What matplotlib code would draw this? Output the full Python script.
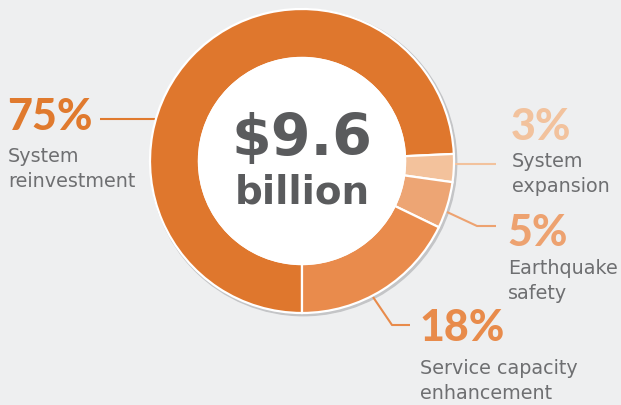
import matplotlib
matplotlib.use("Agg")
import matplotlib.pyplot as plt
from matplotlib.patches import Circle
import numpy as np

# ---- data ----
categories = ["System\nreinvestment", "System\nexpansion", "Earthquake\nsafety", "Service capacity\nenhancement"]
shares = [75, 3, 5, 18]
pct_labels = ["75%", "3%", "5%", "18%"]
total_label = "$9.6"
total_unit = "billion"

# ---- style ----
colors = ["#DF772D", "#F3C29C", "#EDA574", "#E98B4C"]
pct_colors = ["#E07A2E", "#F2C29D", "#EDA270", "#E88B4B"]
gray = "#5A5B5D"
label_gray = "#6E6F71"
bg = "#EEEFF0"

W, H = 621, 405
fig = plt.figure(figsize=(W / 100, H / 100), dpi=100, facecolor=bg)
ax = fig.add_axes([0, 0, 1, 1])
ax.set_xlim(0, W)
ax.set_ylim(0, H)
ax.set_aspect("equal")
ax.axis("off")
ax.set_facecolor(bg)

cx, cy = 302, H - 161
R, r_in = 152, 103

# drop shadow ring
ax.add_patch(Circle((cx + 1.5, cy - 1.5), R + 1.2, color="#C4C5C7", zorder=1))

wedges, _ = ax.pie(shares, colors=colors, startangle=270, counterclock=False,
                   radius=R, center=(cx, cy), frame=False,
                   wedgeprops=dict(width=R - r_in, edgecolor="white", linewidth=1.6))
for w in wedges:
    w.set_zorder(2)
ax.add_patch(Circle((cx, cy), r_in + 0.5, color="white", zorder=3))

ax.set_xlim(0, W)
ax.set_ylim(0, H)

ax.text(cx, H - 140, total_label, ha="center", va="center", fontsize=41,
        fontweight="bold", color=gray, family="DejaVu Sans", zorder=4)
ax.text(cx, H - 192, total_unit, ha="center", va="center", fontsize=28,
        fontweight="bold", color=gray, family="DejaVu Sans", zorder=4)

leaders = [
    [(157, 119), (100, 119)],
    [(454, 164), (496, 164)],
    [(447, 212), (477, 226), (496, 226)],
    [(373, 297), (392, 325), (410, 325)],
]
for pts, c in zip(leaders, pct_colors):
    xs = [p[0] for p in pts]
    ys = [H - p[1] for p in pts]
    ax.plot(xs, ys, color=c, lw=1.5, zorder=1.5, solid_capstyle="butt")

label_pos = [(7, 117, 147), (511, 127, 152), (507, 233, 259), (419, 328, 359)]
for (x, yp, yt), pl, cat, c in zip(label_pos, pct_labels, categories, pct_colors):
    ax.text(x, H - yp, pl, ha="left", va="center", fontsize=31, fontweight="black",
            color=c, family="Lato")
    ax.text(x + 1, H - yt, cat, ha="left", va="top", fontsize=13.8, color=label_gray,
            family="DejaVu Sans", linespacing=1.4)

fig.savefig("out.png", dpi=100, facecolor=bg)
